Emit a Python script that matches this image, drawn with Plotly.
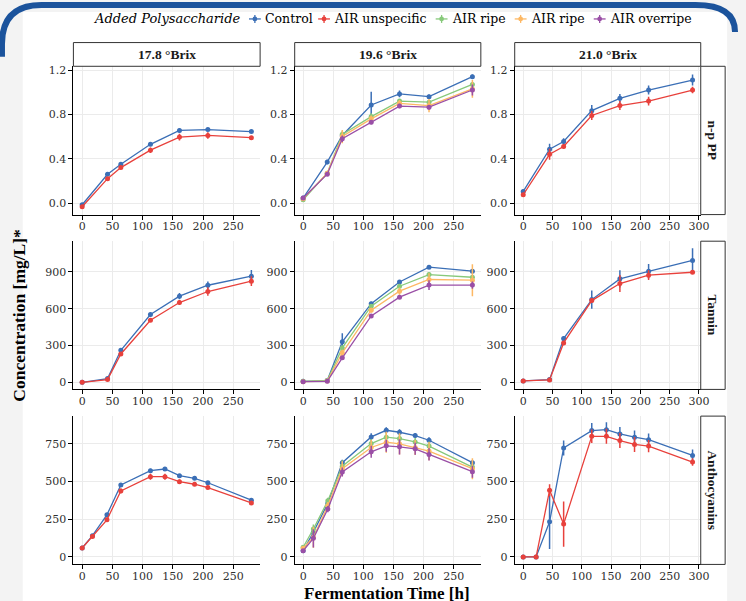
import plotly.graph_objects as go

# ---------------- data ----------------
series_names = ["Control", "AIR unspecific", "AIR ripe", "AIR ripe", "AIR overripe"]
series_colors = ["#3B6FB6", "#E8413C", "#87C97A", "#FDB864", "#9A4FA6"]
legend_title = "Added Polysaccharide"
brix_labels = ["17.8 °Brix", "19.6 °Brix", "21.0 °Brix"]
metric_labels = ["n-p PP", "Tannin", "Anthocyanins"]

# sampling times [h]
t_178 = [0, 42, 64, 113, 161, 208, 280]
t_178_antho = [0, 17, 41, 64, 113, 137, 161, 186, 208, 280]
t_196 = [0, 40, 65, 113, 160, 209, 281]
t_196_antho = [0, 17, 41, 65, 113, 138, 160, 186, 209, 281]
t_210 = [0, 45, 69, 117, 165, 214, 289]
t_210_antho = [0, 22, 45, 69, 117, 142, 165, 190, 214, 289]

# n-p PP
npp_178_control = [-0.015, 0.26, 0.35, 0.53, 0.655, 0.663, 0.645]
npp_178_control_err = [0.01, 0.015, 0.02, 0.015, 0.02, 0.015, 0.01]
npp_178_unspec = [-0.033, 0.22, 0.32, 0.477, 0.595, 0.61, 0.59]
npp_178_unspec_err = [0.01, 0.015, 0.015, 0.025, 0.03, 0.03, 0.01]

npp_196_control = [0.045, 0.37, 0.61, 0.885, 0.985, 0.96, 1.14]
npp_196_control_err = [0.01, 0.02, 0.02, 0.12, 0.03, 0.02, 0.02]
npp_196_ripe_g = [0.03, 0.27, 0.62, 0.78, 0.92, 0.91, 1.07]
npp_196_ripe_g_err = [0.01, 0.01, 0.03, 0.03, 0.02, 0.02, 0.02]
npp_196_ripe_o = [0.04, 0.27, 0.60, 0.76, 0.90, 0.88, 1.03]
npp_196_ripe_o_err = [0.01, 0.02, 0.06, 0.03, 0.03, 0.06, 0.08]
npp_196_over = [0.045, 0.26, 0.58, 0.73, 0.875, 0.865, 1.02]
npp_196_over_err = [0.01, 0.01, 0.03, 0.02, 0.02, 0.02, 0.05]

npp_210_control = [0.105, 0.486, 0.555, 0.834, 0.945, 1.02, 1.11]
npp_210_control_err = [0.02, 0.05, 0.03, 0.05, 0.04, 0.04, 0.05]
npp_210_unspec = [0.075, 0.44, 0.51, 0.79, 0.88, 0.92, 1.02]
npp_210_unspec_err = [0.01, 0.05, 0.02, 0.04, 0.04, 0.04, 0.03]

# Tannin
tan_178_control = [0, 30, 261, 552, 702, 791, 865]
tan_178_control_err = [3, 8, 15, 15, 25, 30, 50]
tan_178_unspec = [0, 22, 231, 506, 650, 740, 824]
tan_178_unspec_err = [3, 5, 15, 15, 20, 35, 40]

tan_196_control = [8, 14, 330, 641, 818, 938, 906]
tan_196_control_err = [3, 3, 70, 15, 15, 15, 15]
tan_196_ripe_g = [8, 14, 280, 620, 783, 878, 856]
tan_196_ripe_g_err = [3, 3, 20, 15, 15, 15, 15]
tan_196_ripe_o = [5, 10, 240, 588, 743, 838, 832]
tan_196_ripe_o_err = [3, 3, 25, 20, 30, 50, 130]
tan_196_over = [5, 8, 199, 541, 694, 792, 792]
tan_196_over_err = [3, 3, 15, 15, 15, 40, 30]

tan_210_control = [11, 22, 356, 674, 843, 905, 993]
tan_210_control_err = [5, 5, 20, 75, 70, 60, 100]
tan_210_unspec = [11, 19, 321, 666, 805, 873, 897]
tan_210_unspec_err = [5, 5, 15, 20, 70, 40, 15]

# Anthocyanins
ant_178_control = [59, 141, 279, 477, 572, 583, 539, 521, 492, 376]
ant_178_control_err = [5, 8, 10, 10, 12, 12, 10, 10, 10, 12]
ant_178_unspec = [59, 136, 246, 438, 532, 532, 499, 482, 460, 358]
ant_178_unspec_err = [5, 8, 15, 15, 20, 20, 15, 12, 12, 12]

ant_196_control = [40, 163, 356, 625, 796, 840, 827, 805, 774, 625]
ant_196_control_err = [8, 20, 15, 20, 25, 20, 20, 15, 20, 15]
ant_196_ripe_g = [64, 185, 372, 602, 752, 794, 785, 763, 735, 596]
ant_196_ripe_g_err = [8, 30, 20, 40, 30, 30, 30, 25, 30, 25]
ant_196_ripe_o = [57, 130, 339, 585, 726, 761, 750, 726, 702, 585]
ant_196_ripe_o_err = [10, 70, 25, 50, 50, 70, 70, 50, 60, 70]
ant_196_over = [40, 123, 317, 563, 697, 737, 730, 717, 680, 565]
ant_196_over_err = [8, 60, 20, 30, 40, 40, 50, 40, 40, 40]

ant_210_control = [0, 0, 233, 723, 838, 844, 816, 794, 778, 673]
ant_210_control_err = [3, 3, 180, 50, 50, 50, 45, 45, 40, 40]
ant_210_unspec = [0, 0, 442, 218, 800, 800, 772, 746, 735, 629]
ant_210_unspec_err = [3, 3, 40, 150, 45, 50, 50, 50, 40, 25]

# tick labels
x_ticks_a = [0, 50, 100, 150, 200, 250]
x_ticks_b = [0, 50, 100, 150, 200, 250, 300]
y_ticks_npp = [0.0, 0.4, 0.8, 1.2]
y_ticklabels_npp = ["0.0", "0.4", "0.8", "1.2"]
y_ticks_tan = [0, 300, 600, 900]
y_ticks_ant = [0, 250, 500, 750]

# panels: (row, col) -> list of (series index, times, values, errors)
panels = {
    (0, 0): [(0, t_178, npp_178_control, npp_178_control_err), (1, t_178, npp_178_unspec, npp_178_unspec_err)],
    (0, 1): [(0, t_196, npp_196_control, npp_196_control_err), (2, t_196, npp_196_ripe_g, npp_196_ripe_g_err),
             (3, t_196, npp_196_ripe_o, npp_196_ripe_o_err), (4, t_196, npp_196_over, npp_196_over_err)],
    (0, 2): [(0, t_210, npp_210_control, npp_210_control_err), (1, t_210, npp_210_unspec, npp_210_unspec_err)],
    (1, 0): [(0, t_178, tan_178_control, tan_178_control_err), (1, t_178, tan_178_unspec, tan_178_unspec_err)],
    (1, 1): [(0, t_196, tan_196_control, tan_196_control_err), (2, t_196, tan_196_ripe_g, tan_196_ripe_g_err),
             (3, t_196, tan_196_ripe_o, tan_196_ripe_o_err), (4, t_196, tan_196_over, tan_196_over_err)],
    (1, 2): [(0, t_210, tan_210_control, tan_210_control_err), (1, t_210, tan_210_unspec, tan_210_unspec_err)],
    (2, 0): [(0, t_178_antho, ant_178_control, ant_178_control_err), (1, t_178_antho, ant_178_unspec, ant_178_unspec_err)],
    (2, 1): [(0, t_196_antho, ant_196_control, ant_196_control_err), (2, t_196_antho, ant_196_ripe_g, ant_196_ripe_g_err),
             (3, t_196_antho, ant_196_ripe_o, ant_196_ripe_o_err), (4, t_196_antho, ant_196_over, ant_196_over_err)],
    (2, 2): [(0, t_210_antho, ant_210_control, ant_210_control_err), (1, t_210_antho, ant_210_unspec, ant_210_unspec_err)],
}

# ---------------- layout geometry ----------------
W, H = 746, 601
FONT_BOLD = "Liberation Serif"
FONT_REG = "DejaVu Serif"


def fx(p):
    return p / W


def fy(p):
    return 1 - p / H


col_px = [(74.3, 263.3), (298.3, 486.7), (521.0, 709.3)]
row_px = [(64.5, 213.3), (240.0, 388.7), (415.5, 564.3)]
x_ranges = [[-14.5, 294.5], [-14, 295], [-14.5, 303]]
y_ranges = [[-0.104, 1.234], [-58, 1150], [-50, 934]]
x_tickvals = [x_ticks_a, x_ticks_a, x_ticks_b]
y_tickvals = [y_ticks_npp, y_ticks_tan, y_ticks_ant]
y_ticktext = [y_ticklabels_npp, [str(v) for v in y_ticks_tan], [str(v) for v in y_ticks_ant]]

fig = go.Figure()
for (r, c), traces in panels.items():
    k = r * 3 + c + 1
    for si, t, v, e in traces:
        fig.add_trace(go.Scatter(
            x=t, y=v,
            mode="lines+markers",
            name=series_names[si],
            legendgroup=f"g{si}",
            showlegend=False,
            line=dict(color=series_colors[si], width=1.3),
            marker=dict(color=series_colors[si], size=5),
            error_y=dict(type="data", array=e, visible=True, width=0, thickness=1.5,
                         color=series_colors[si]),
            xaxis=f"x{k}", yaxis=f"y{k}",
        ))

axis_common = dict(
    showline=True, linecolor="black", linewidth=1.1, mirror=False,
    ticks="outside", ticklen=4, tickcolor="black", tickwidth=1,
    showgrid=True, gridcolor="#EBEBEB", gridwidth=1, zeroline=False,
    tickfont=dict(family=FONT_REG, size=11, color="#303030"),
)

layout_axes = {}
for r in range(3):
    for c in range(3):
        k = r * 3 + c + 1
        sfx = "" if k == 1 else str(k)
        layout_axes[f"xaxis{sfx}"] = dict(
            axis_common, domain=[fx(col_px[c][0]), fx(col_px[c][1])],
            anchor=f"y{k}", range=x_ranges[c], tickmode="array",
            tickvals=x_tickvals[c], ticktext=[str(v) for v in x_tickvals[c]],
            ticklabelstandoff=-3,
        )
        layout_axes[f"yaxis{sfx}"] = dict(
            axis_common, domain=[fy(row_px[r][1]), fy(row_px[r][0])],
            anchor=f"x{k}", range=y_ranges[r], tickmode="array",
            tickvals=y_tickvals[r], ticktext=y_ticktext[r],
        )

shapes = []
annotations = []
# white content area (screenshot frame)
shapes.append(dict(type="rect", xref="paper", yref="paper", layer="below",
                   x0=fx(23), x1=fx(736), y0=fy(601), y1=fy(10),
                   fillcolor="white", line=dict(width=0)))
# blue rounded frame at top
path = (f"M {fx(2)},{fy(55)} L {fx(2)},{fy(42)} Q {fx(2)},{fy(3)} {fx(42)},{fy(3)} "
        f"L {fx(704)},{fy(3)} Q {fx(744)},{fy(3)} {fx(744)},{fy(30)}")
shapes.append(dict(type="path", xref="paper", yref="paper", path=path,
                   line=dict(color="#1B539C", width=6)))

# legend (drawn as text + key glyphs, ggplot style)
LEG_Y = 17
annotations.append(dict(xref="paper", yref="paper", x=fx(246), y=fy(LEG_Y),
                        text=f"<i>{legend_title}</i>", showarrow=False,
                        font=dict(family=FONT_REG, size=13, color="black"),
                        xanchor="right", yanchor="middle"))
key_centers = [258, 328, 447, 527, 607]
for i, name in enumerate(series_names):
    cx = key_centers[i]
    col = series_colors[i]
    shapes.append(dict(type="line", xref="paper", yref="paper",
                       x0=fx(cx - 6), x1=fx(cx + 6), y0=fy(LEG_Y), y1=fy(LEG_Y),
                       line=dict(color=col, width=1.3)))
    shapes.append(dict(type="line", xref="paper", yref="paper",
                       x0=fx(cx), x1=fx(cx), y0=fy(LEG_Y - 4), y1=fy(LEG_Y + 4),
                       line=dict(color=col, width=1.3)))
    shapes.append(dict(type="circle", xref="paper", yref="paper",
                       x0=fx(cx - 2.4), x1=fx(cx + 2.4), y0=fy(LEG_Y - 2.4), y1=fy(LEG_Y + 2.4),
                       fillcolor=col, line=dict(color=col, width=0)))
    annotations.append(dict(xref="paper", yref="paper", x=fx(cx + 8), y=fy(LEG_Y),
                            text=name, showarrow=False,
                            font=dict(family=FONT_REG, size=12.5, color="black"),
                            xanchor="left", yanchor="middle"))

# top strips
for c in range(3):
    shapes.append(dict(type="rect", xref="paper", yref="paper",
                       x0=fx(col_px[c][0]), x1=fx(col_px[c][1]), y0=fy(64.5), y1=fy(40.7),
                       fillcolor="white", line=dict(color="#333333", width=1)))
    annotations.append(dict(xref="paper", yref="paper",
                            x=fx((col_px[c][0] + col_px[c][1]) / 2), y=fy(52.6),
                            text=f"<b>{brix_labels[c]}</b>", showarrow=False,
                            font=dict(family=FONT_BOLD, size=13.5, color="#1a1a1a"),
                            xanchor="center", yanchor="middle"))
# right strips
for r in range(3):
    shapes.append(dict(type="rect", xref="paper", yref="paper",
                       x0=fx(709.3), x1=fx(734), y0=fy(row_px[r][1]), y1=fy(row_px[r][0]),
                       fillcolor="white", line=dict(color="#333333", width=1)))
    annotations.append(dict(xref="paper", yref="paper",
                            x=fx(721.6), y=fy((row_px[r][0] + row_px[r][1]) / 2),
                            text=f"<b>{metric_labels[r]}</b>", showarrow=False, textangle=90,
                            font=dict(family=FONT_BOLD, size=13.5, color="#1a1a1a"),
                            xanchor="center", yanchor="middle"))

# axis titles
annotations.append(dict(xref="paper", yref="paper", x=fx(392), y=fy(593.5),
                        text="<b>Fermentation Time [h]</b>", showarrow=False,
                        font=dict(family=FONT_BOLD, size=17, color="black"),
                        xanchor="center", yanchor="middle"))
annotations.append(dict(xref="paper", yref="paper", x=fx(19), y=fy(314),
                        text="<b>Concentration [mg/L]*</b>", showarrow=False, textangle=-90,
                        font=dict(family=FONT_BOLD, size=17.5, color="black"),
                        xanchor="center", yanchor="middle"))

fig.update_layout(
    width=W, height=H,
    margin=dict(l=0, r=0, t=0, b=0),
    paper_bgcolor="#F3F3F3",
    plot_bgcolor="white",
    font=dict(family=FONT_REG, size=12, color="black"),
    showlegend=False,
    shapes=shapes,
    annotations=annotations,
    **layout_axes,
)

fig.write_html("out.html", config={"displayModeBar": False},
               post_script="document.body.style.margin='0px';")
